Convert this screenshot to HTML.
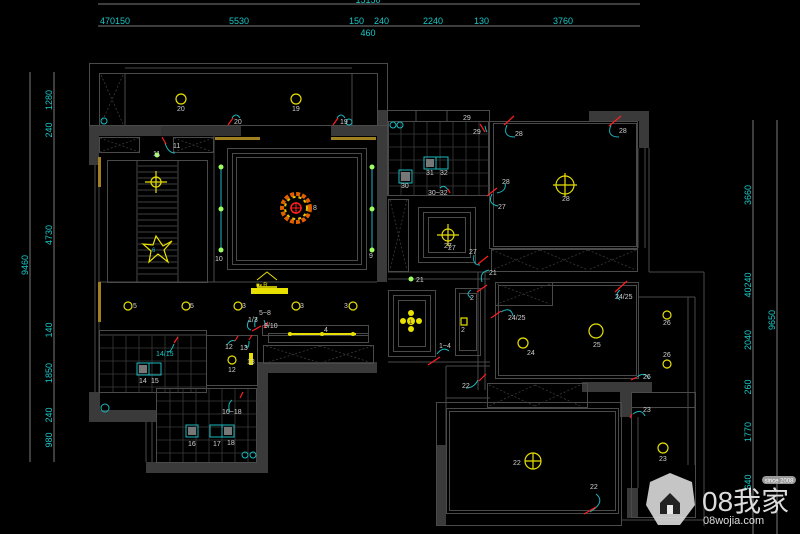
<!DOCTYPE html>
<html><head><meta charset="utf-8"><style>
html,body{margin:0;padding:0;background:#000;width:800px;height:534px;overflow:hidden}
svg{display:block}
text{font-family:"Liberation Sans",sans-serif}
</style></head><body>
<svg width="800" height="534" viewBox="0 0 800 534" xmlns="http://www.w3.org/2000/svg">
<rect width="800" height="534" fill="#000"/>
<!-- dimension lines -->
<g stroke="#7a7a7a" stroke-width="1">
<line x1="98" y1="4" x2="640" y2="4"/>
<line x1="98" y1="26" x2="640" y2="26"/>
<line x1="30" y1="72" x2="30" y2="462"/>
<line x1="54" y1="72" x2="54" y2="462"/>
<line x1="753" y1="120" x2="753" y2="534"/>
<line x1="777" y1="120" x2="777" y2="534"/>
</g>
<g fill="#19c8c8" font-size="9">
<text x="368" y="3" text-anchor="middle">15150</text>
<text x="100" y="24">470150</text>
<text x="229" y="24">5530</text>
<text x="349" y="24">150</text>
<text x="374" y="24">240</text>
<text x="423" y="24">2240</text>
<text x="474" y="24">130</text>
<text x="553" y="24">3760</text>
<text x="368" y="36" text-anchor="middle">460</text>
<g transform="rotate(-90)">
<text x="-265" y="28" text-anchor="middle">9460</text>
<text x="-100" y="52" text-anchor="middle">1280</text>
<text x="-130" y="52" text-anchor="middle">240</text>
<text x="-235" y="52" text-anchor="middle">4730</text>
<text x="-330" y="52" text-anchor="middle">140</text>
<text x="-373" y="52" text-anchor="middle">1850</text>
<text x="-415" y="52" text-anchor="middle">240</text>
<text x="-440" y="52" text-anchor="middle">980</text>
<text x="-195" y="751" text-anchor="middle">3660</text>
<text x="-285" y="751" text-anchor="middle">40240</text>
<text x="-340" y="751" text-anchor="middle">2040</text>
<text x="-387" y="751" text-anchor="middle">260</text>
<text x="-432" y="751" text-anchor="middle">1770</text>
<text x="-482" y="751" text-anchor="middle">640</text>
<text x="-320" y="775" text-anchor="middle">9650</text>
</g>
</g>

<!-- walls (dark grey fills) -->
<g fill="#3a3a3a">
<rect x="89" y="126" width="72" height="10"/>
<rect x="331" y="126" width="56" height="10"/>
<rect x="89" y="126" width="10" height="39"/>
<rect x="377" y="110" width="10" height="172"/>
<rect x="589" y="111" width="60" height="10"/>
<rect x="639" y="111" width="10" height="37"/>
<rect x="89" y="392" width="11" height="30"/>
<rect x="89" y="410" width="68" height="12"/>
<rect x="146" y="462" width="122" height="11"/>
<rect x="257" y="362" width="11" height="111"/>
<rect x="257" y="362" width="120" height="11"/>
<rect x="582" y="382" width="70" height="10"/>
<rect x="620" y="382" width="11" height="35"/>
<rect x="436" y="445" width="10" height="81"/>
<rect x="627" y="488" width="11" height="30"/>
</g>
<g fill="#555">
<rect x="161" y="126" width="80" height="10" opacity="0.6"/>
</g>

<!-- outline lines -->
<g stroke="#4a4a4a" stroke-width="1" fill="none">
<rect x="89.5" y="63.5" width="298" height="62"/>
<rect x="99.5" y="73.5" width="278" height="52"/>
<line x1="125" y1="73" x2="125" y2="126"/>
<line x1="352" y1="73" x2="352" y2="126"/>
<line x1="125" y1="68" x2="352" y2="68"/>
<rect x="227.5" y="148.5" width="139" height="121"/>
<rect x="232.5" y="153.5" width="129" height="111"/>
<rect x="236.5" y="157.5" width="121" height="103"/>
<rect x="107.5" y="160.5" width="100" height="122"/>
<line x1="137" y1="160" x2="137" y2="282"/>
<line x1="178" y1="160" x2="178" y2="282"/>
<line x1="214" y1="136" x2="214" y2="282"/>
<line x1="99" y1="282" x2="377" y2="282"/>
<rect x="99.5" y="137.5" width="40" height="15"/>
<rect x="173.5" y="137.5" width="40" height="15"/>
<line x1="99" y1="165" x2="99" y2="392"/>
<line x1="95" y1="165" x2="95" y2="392"/>
<!-- lower left rooms -->
<rect x="99.5" y="330.5" width="107" height="62"/>
<line x1="99" y1="335" x2="206" y2="335"/>
<rect x="206.5" y="335.5" width="51" height="50"/>
<rect x="156.5" y="388.5" width="100" height="74"/>
<line x1="146" y1="422" x2="146" y2="462"/>
<line x1="152" y1="422" x2="152" y2="462"/>
<rect x="268.5" y="333.5" width="100" height="9"/>
<rect x="262.5" y="325.5" width="106" height="10"/>
<rect x="263.5" y="345.5" width="110" height="18"/>
<!-- kitchen top right -->
<rect x="387.5" y="110.5" width="102" height="85"/>
<rect x="388.5" y="121.5" width="100" height="74"/>
<line x1="416" y1="110" x2="416" y2="121"/>
<line x1="447" y1="110" x2="447" y2="121"/>
<rect x="388.5" y="199.5" width="20" height="72"/>
<rect x="418.5" y="207.5" width="57" height="55"/>
<rect x="423.5" y="212.5" width="47" height="45"/>
<rect x="428.5" y="217.5" width="37" height="35"/>
<line x1="388" y1="272" x2="490" y2="272"/>
<line x1="388" y1="279" x2="490" y2="279"/>
<!-- bedroom top right -->
<rect x="489.5" y="121.5" width="148" height="127"/>
<rect x="493.5" y="123.5" width="143" height="123"/>
<line x1="638" y1="148" x2="638" y2="248"/>
<line x1="645" y1="148" x2="645" y2="248"/>
<line x1="649" y1="148" x2="649" y2="272"/>
<line x1="649" y1="272" x2="704" y2="272"/>
<line x1="704" y1="272" x2="704" y2="526"/>
<rect x="491.5" y="249.5" width="146" height="22"/>
<!-- middle room -->
<rect x="495.5" y="282.5" width="143" height="96"/>
<rect x="498.5" y="285.5" width="138" height="90"/>
<rect x="495.5" y="282.5" width="57" height="23"/>
<line x1="478" y1="272" x2="478" y2="390"/>
<line x1="485" y1="272" x2="485" y2="390"/>
<line x1="638" y1="297" x2="695" y2="297"/>
<line x1="695" y1="297" x2="695" y2="465"/>
<line x1="688" y1="297" x2="688" y2="465"/>
<rect x="487.5" y="383.5" width="100" height="24"/>
<rect x="631.5" y="392.5" width="64" height="15"/>
<!-- entry -->
<rect x="388.5" y="290.5" width="47" height="66"/>
<rect x="393.5" y="295.5" width="37" height="56"/>
<rect x="398.5" y="300.5" width="27" height="46"/>
<rect x="455.5" y="288.5" width="25" height="67"/>
<rect x="459.5" y="293.5" width="17" height="57"/>
<line x1="388" y1="362" x2="490" y2="362"/>
<line x1="446" y1="366" x2="446" y2="445"/>
<line x1="446" y1="366" x2="490" y2="366"/>
<line x1="446" y1="398" x2="490" y2="398"/>
<!-- bottom room -->
<rect x="436.5" y="402.5" width="185" height="123"/>
<rect x="446.5" y="408.5" width="172" height="105"/>
<rect x="449.5" y="411.5" width="166" height="99"/>
<rect x="631.5" y="407.5" width="64" height="110"/>
<line x1="638" y1="417" x2="638" y2="488"/>
<line x1="621" y1="520" x2="704" y2="520"/>
</g>

<!-- dashed cross hatches -->
<g stroke="#3a3a3a" stroke-width="0.8" stroke-dasharray="2,2" fill="none">
<path d="M101 75 L123 124 M123 75 L101 124"/>
<path d="M100 138 L139 152 M139 138 L100 152 M174 138 L213 152 M213 138 L174 152"/>
<path d="M390 200 L407 270 M407 200 L390 270"/>
<path d="M492 250 L540 270 M540 250 L588 270 M588 250 L636 270 M540 250 L492 270 M588 250 L540 270 M636 250 L588 270"/>
<path d="M497 284 L550 304 M550 284 L497 304"/>
<path d="M489 385 L535 406 M535 385 L580 406 M535 385 L489 406 M580 385 L535 406"/>
<path d="M266 346 L320 363 M320 346 L372 363 M320 346 L266 363 M372 346 L320 363"/>
</g>

<!-- tile grids -->
<g stroke="#3a3a3a" stroke-width="0.8">
<path d="M401 122 V195 M414 122 V195 M427 122 V195 M440 122 V195 M453 122 V195 M466 122 V195 M479 122 V195 M388 134 H489 M388 147 H489 M388 160 H489 M388 173 H489 M388 186 H489"/>
<path d="M113 336 V392 M126 336 V392 M139 336 V392 M152 336 V392 M165 336 V392 M178 336 V392 M191 336 V392 M100 348 H206 M100 361 H206 M100 374 H206 M100 387 H206"/>
<path d="M170 389 V462 M183 389 V462 M196 389 V462 M209 389 V462 M222 389 V462 M235 389 V462 M248 389 V462 M157 401 H257 M157 414 H257 M157 427 H257 M157 440 H257 M157 453 H257"/>
</g>
<!-- stair hatch -->
<g stroke="#555" stroke-width="0.8">
<path d="M138 166 H177 M138 172 H177 M138 178 H177 M138 184 H177 M138 190 H177 M138 196 H177 M138 202 H177 M138 208 H177 M138 214 H177 M138 220 H177 M138 226 H177 M138 232 H177 M138 238 H177 M138 244 H177 M138 250 H177 M138 256 H177 M138 262 H177 M138 268 H177 M138 274 H177"/>
</g>

<!-- cornice gold strips -->
<g fill="#a08020">
<rect x="215" y="137" width="45" height="3"/>
<rect x="331" y="137" width="45" height="3"/>
<rect x="98" y="157" width="3" height="30"/>
<rect x="98" y="282" width="3" height="40"/>
</g>

<!-- lights -->
<g fill="none" stroke="#e8e000" stroke-width="1.2">
<circle cx="181" cy="99" r="5"/>
<circle cx="296" cy="99" r="5"/>
<circle cx="128" cy="306" r="4"/>
<circle cx="186" cy="306" r="4"/>
<circle cx="238" cy="306" r="4"/>
<circle cx="296" cy="306" r="4"/>
<circle cx="353" cy="306" r="4"/>
<circle cx="232" cy="360" r="4"/>
<circle cx="156" cy="182" r="5"/>
<path d="M145 182 H167 M156 171 V193"/>
<circle cx="565" cy="185" r="9"/>
<path d="M553 185 H577 M565 173 V197"/>
<circle cx="448" cy="235" r="6"/>
<path d="M437 235 H459 M448 224 V246"/>
<circle cx="596" cy="331" r="7"/>
<circle cx="523" cy="343" r="5"/>
<circle cx="667" cy="315" r="4"/>
<circle cx="667" cy="364" r="4"/>
<circle cx="533" cy="461" r="8"/>
<path d="M525 461 H541 M533 453 V469"/>
<circle cx="663" cy="448" r="5"/>
<rect x="461" y="318" width="6" height="7"/>
<path d="M156 236 L163 246 L172 241 L164 250 L168 262 L158 254 L149 262 L151 251 L143 244 L153 245 Z"/>
</g>
<g fill="#e8e000">
<rect x="251" y="288" width="37" height="6"/>
<rect x="252" y="303" width="0" height="0"/>
<rect x="288" y="333" width="68" height="2"/>
<circle cx="290" cy="334" r="2"/><circle cx="322" cy="334" r="2"/><circle cx="353" cy="334" r="2"/>
<circle cx="411" cy="321" r="4"/>
<circle cx="403" cy="321" r="3"/><circle cx="419" cy="321" r="3"/><circle cx="411" cy="313" r="3"/><circle cx="411" cy="329" r="3"/>
<rect x="249" y="353" width="4" height="12"/>
<rect x="257" y="286" width="20" height="3" opacity="0.8"/>
<rect x="258" y="274" width="18" height="10" opacity="0.0"/>
</g>
<path d="M257 280 L267 272 L277 280" stroke="#e8e000" fill="none"/>
<text x="256" y="287" fill="#e8e000" font-size="6">■◐R</text>

<!-- chandelier -->
<g>
<circle cx="296" cy="208" r="14" fill="none" stroke="#e06000" stroke-width="4" stroke-dasharray="4,2"/>
<circle cx="296" cy="208" r="11" fill="none" stroke="#e8c000" stroke-width="2" stroke-dasharray="3,3"/>
<circle cx="296" cy="208" r="5" fill="none" stroke="#ff2020" stroke-width="1.5"/>
<path d="M290 208 H302 M296 202 V214" stroke="#ff2020"/>
</g>

<!-- cyan strips -->
<g stroke="#19b8c0" stroke-width="1">
<line x1="221" y1="167" x2="221" y2="250"/>
<line x1="372" y1="167" x2="372" y2="250"/>
</g>
<g fill="#a0ff60">
<circle cx="221" cy="167" r="2.5"/><circle cx="221" cy="209" r="2.5"/><circle cx="221" cy="250" r="2.5"/>
<circle cx="372" cy="167" r="2.5"/><circle cx="372" cy="209" r="2.5"/><circle cx="372" cy="250" r="2.5"/>
<circle cx="157" cy="155" r="2.5"/><circle cx="411" cy="279" r="2.5"/>
</g>

<!-- appliances -->
<g fill="none" stroke="#19b8c0" stroke-width="1">
<rect x="424" y="157" width="12" height="12"/><rect x="436" y="157" width="12" height="12"/>
<rect x="399" y="170" width="13" height="13"/>
<rect x="137" y="363" width="12" height="12"/><rect x="149" y="363" width="12" height="12"/>
<rect x="186" y="425" width="12" height="12"/><rect x="210" y="425" width="12" height="12"/><rect x="222" y="425" width="12" height="12"/>
<circle cx="105" cy="408" r="4"/><circle cx="245" cy="455" r="3"/><circle cx="253" cy="455" r="3"/>
<circle cx="104" cy="121" r="3"/><circle cx="349" cy="122" r="3"/><circle cx="393" cy="125" r="3"/><circle cx="400" cy="125" r="3"/>
</g>
<g fill="#777"><rect x="426" y="159" width="8" height="8"/><rect x="139" y="365" width="8" height="8"/><rect x="188" y="427" width="8" height="8"/><rect x="401" y="172" width="9" height="9"/><rect x="224" y="427" width="8" height="8"/></g>

<!-- switch arcs (cyan) with red lines -->
<g fill="none" stroke="#19b8c0" stroke-width="1">
<path d="M165 143 q3 10 10 10"/>
<path d="M232 118 q4 -6 8 0"/><path d="M337 118 q4 -6 8 0"/>
<path d="M507 125 q-5 12 8 12"/><path d="M611 125 q-5 12 8 12"/>
<path d="M485 126 q1 5 2 6"/>
<path d="M440 188 q4 -4 8 2"/>
<path d="M492 194 q-5 10 6 12"/><path d="M505 183 q2 8 -8 10"/>
<path d="M474 255 q-2 10 6 10"/>
<path d="M489 270 q-10 2 -7 12"/>
<path d="M471 290 q-6 4 0 8"/>
<path d="M501 312 q10 -6 12 4"/>
<path d="M620 290 q-6 5 0 10"/>
<path d="M437 354 q6 -8 12 -3"/>
<path d="M478 380 q-4 8 -12 8"/>
<path d="M637 377 q8 -6 12 2"/>
<path d="M633 414 q8 -6 12 2"/>
<path d="M596 494 q10 8 -6 18"/>
<path d="M249 320 q-4 8 2 10"/><path d="M257 317 q-3 5 -2 10"/>
<path d="M227 345 q4 -6 8 -4"/><path d="M245 345 q4 6 4 -4"/>
<path d="M174 344 q-3 8 -6 8"/>
<path d="M232 400 q-5 4 -2 12"/>
<path d="M264 320 q2 5 1 8"/>
</g>
<g stroke="#ff2020" stroke-width="1.2">
<line x1="162" y1="137" x2="166" y2="144"/>
<line x1="228" y1="125" x2="233" y2="118"/><line x1="333" y1="125" x2="338" y2="118"/>
<line x1="504" y1="125" x2="514" y2="116"/><line x1="609" y1="126" x2="621" y2="116"/>
<line x1="480" y1="124" x2="485" y2="132"/>
<line x1="448" y1="189" x2="450" y2="193"/>
<line x1="487" y1="196" x2="497" y2="188"/>
<line x1="478" y1="264" x2="488" y2="256"/>
<line x1="477" y1="292" x2="487" y2="285"/>
<line x1="491" y1="318" x2="501" y2="311"/>
<line x1="615" y1="292" x2="627" y2="281"/>
<line x1="428" y1="365" x2="440" y2="357"/>
<line x1="479" y1="381" x2="486" y2="374"/>
<line x1="631" y1="380" x2="637" y2="377"/>
<line x1="632" y1="414" x2="630" y2="418"/>
<line x1="584" y1="514" x2="596" y2="507"/>
<line x1="252" y1="331" x2="261" y2="326"/><line x1="264" y1="328" x2="268" y2="322"/>
<line x1="235" y1="341" x2="238" y2="336"/><line x1="249" y1="340" x2="252" y2="335"/>
<line x1="174" y1="343" x2="178" y2="337"/>
<line x1="240" y1="398" x2="243" y2="392"/>
</g>

<!-- labels -->
<g fill="#cfcfcf" font-size="7">
<text x="177" y="111">20</text><text x="292" y="111">19</text>
<text x="234" y="124">20</text><text x="340" y="124">19</text>
<text x="173" y="148">11</text><text x="153" y="156">11</text>
<text x="313" y="210">8</text>
<text x="215" y="261">10</text><text x="369" y="258">9</text>
<text x="133" y="308">5</text><text x="190" y="308">5</text><text x="242" y="308">3</text><text x="300" y="308">3</text><text x="344" y="308">3</text>
<text x="259" y="315">5~8</text><text x="248" y="322">1/3</text><text x="264" y="328">9/10</text>
<text x="324" y="332">4</text>
<text x="225" y="349">12</text><text x="240" y="350">13</text><text x="228" y="372">12</text><text x="247" y="364">13</text>
<text x="139" y="383">14</text><text x="151" y="383">15</text>
<text x="222" y="414">16~18</text>
<text x="188" y="446">16</text><text x="213" y="446">17</text><text x="227" y="445">18</text>
<text x="463" y="120">29</text><text x="473" y="134">29</text>
<text x="515" y="136">28</text><text x="619" y="133">28</text>
<text x="426" y="175">31</text><text x="440" y="175">32</text><text x="401" y="188">30</text>
<text x="428" y="195">30~32</text>
<text x="502" y="184">28</text><text x="562" y="201">28</text><text x="498" y="209">27</text>
<text x="444" y="248">27</text><text x="469" y="254">27</text>
<text x="416" y="282">21</text><text x="489" y="275">21</text>
<text x="470" y="300">2</text><text x="461" y="332">2</text>
<text x="508" y="320">24/25</text><text x="615" y="299">24/25</text>
<text x="527" y="355">24</text><text x="593" y="347">25</text>
<text x="663" y="325">26</text><text x="663" y="357">26</text><text x="643" y="379">26</text>
<text x="439" y="348">1~4</text><text x="462" y="388">22</text>
<text x="643" y="412">23</text><text x="659" y="461">23</text>
<text x="513" y="465">22</text><text x="590" y="489">22</text>
<text x="448" y="250">27</text>
</g>
<text x="156" y="356" fill="#19c8c8" font-size="7">14/15</text>
<text x="152" y="252" fill="#19b8c0" font-size="6">6</text>
<text x="409" y="324" fill="#333" font-size="6">1</text>

<!-- watermark -->
<g>
<path d="M670 473 L692 482 L695 505 L680 525 L658 525 L646 505 L650 482 Z" fill="#e8e8e8" opacity="0.85"/>
<path d="M660 503 L670 493 L680 503 L680 514 L660 514 Z" fill="#222"/>
<rect x="667" y="505" width="6" height="9" fill="#e8e8e8"/>
<rect x="762" y="476" width="34" height="8" rx="4" fill="#999"/>
<text x="779" y="482.5" fill="#fff" font-size="6" text-anchor="middle">since 2008</text>
<text x="702" y="511" fill="#dcdcdc" font-size="28" font-family="Liberation Sans, Noto Sans CJK SC, sans-serif">08我家</text>
<text x="703" y="524" fill="#dcdcdc" font-size="11" font-family="Liberation Mono, monospace">08wojia.com</text>
</g>
</svg>
</body></html>
